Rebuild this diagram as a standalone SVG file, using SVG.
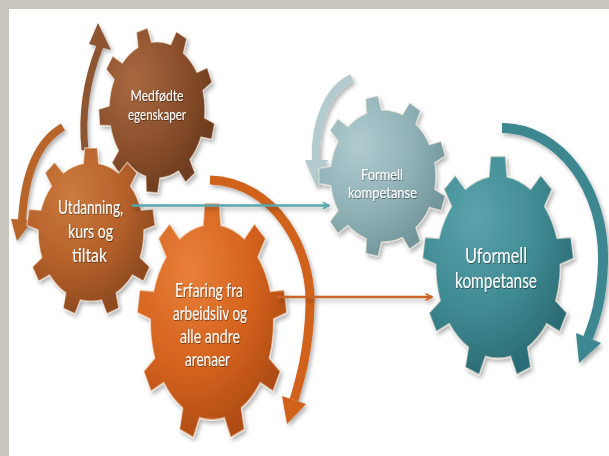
<svg xmlns="http://www.w3.org/2000/svg" xmlns:xlink="http://www.w3.org/1999/xlink" width="609" height="456" viewBox="0 0 609 456">
  <style>
    .lbl { font-family: Lato, "Open Sans", "DejaVu Sans", sans-serif; fill: #ffffff; text-anchor: middle; }
    .rim { stroke: #fff3e6; stroke-opacity: 0.55; stroke-width: 1.2; vector-effect: non-scaling-stroke; }
    .arc { fill: none; stroke-linecap: butt; }
    .link { fill: none; stroke-width: 2.4; }
  </style>
  <defs>
    <!-- nine-tooth gear outline, body radius 55, tooth tips at 67 -->
    <path id="gear9" d="M -8 -54.42 L -6.5 -66.68 L 6.5 -66.68 L 8 -54.42 A 55 55 0 0 1 28.85 -46.83 L 37.88 -55.26 L 47.86 -46.89 L 41.11 -36.54 A 55 55 0 0 1 52.2 -17.33 L 64.54 -17.98 L 66.8 -5.17 L 54.98 -1.57 A 55 55 0 0 1 51.12 20.28 L 61 27.7 L 54.5 38.97 L 43.14 34.12 A 55 55 0 0 1 26.13 48.4 L 28.92 60.44 L 16.7 64.89 L 11.1 53.87 A 55 55 0 0 1 -11.1 53.87 L -16.7 64.89 L -28.92 60.44 L -26.13 48.4 A 55 55 0 0 1 -43.14 34.12 L -54.5 38.97 L -61 27.7 L -51.12 20.28 A 55 55 0 0 1 -54.98 -1.57 L -66.8 -5.17 L -64.54 -17.98 L -52.2 -17.33 A 55 55 0 0 1 -41.11 -36.54 L -47.86 -46.89 L -37.88 -55.26 L -28.85 -46.83 A 55 55 0 0 1 -8 -54.42 Z"/>
    <radialGradient id="fillBrown" gradientUnits="userSpaceOnUse" cx="-20" cy="-30" r="95">
      <stop offset="0" stop-color="#a8693f"/>
      <stop offset="0.6" stop-color="#8a4f2c"/>
      <stop offset="1" stop-color="#6e3c20"/>
    </radialGradient>
    <radialGradient id="fillRust" gradientUnits="userSpaceOnUse" cx="-20" cy="-30" r="95">
      <stop offset="0" stop-color="#cc7a3e"/>
      <stop offset="0.6" stop-color="#b4602a"/>
      <stop offset="1" stop-color="#8e4a1f"/>
    </radialGradient>
    <radialGradient id="fillOrange" gradientUnits="userSpaceOnUse" cx="-20" cy="-30" r="95">
      <stop offset="0" stop-color="#e8803a"/>
      <stop offset="0.6" stop-color="#d4621e"/>
      <stop offset="1" stop-color="#b04d14"/>
    </radialGradient>
    <radialGradient id="fillMist" gradientUnits="userSpaceOnUse" cx="-20" cy="-30" r="95">
      <stop offset="0" stop-color="#b0cbcf"/>
      <stop offset="0.6" stop-color="#8fb1b6"/>
      <stop offset="1" stop-color="#72969c"/>
    </radialGradient>
    <radialGradient id="fillTeal" gradientUnits="userSpaceOnUse" cx="-20" cy="-30" r="95">
      <stop offset="0" stop-color="#5aa3ab"/>
      <stop offset="0.6" stop-color="#3f8a93"/>
      <stop offset="1" stop-color="#2c6c74"/>
    </radialGradient>
    <filter id="shadow" x="-20%" y="-20%" width="140%" height="140%">
      <feDropShadow dx="2" dy="3" stdDeviation="2" flood-color="#000" flood-opacity="0.3"/>
    </filter>
    <filter id="textShadow" x="-10%" y="-10%" width="120%" height="130%">
      <feDropShadow dx="0.6" dy="1" stdDeviation="0.6" flood-color="#000" flood-opacity="0.45"/>
    </filter>
    <marker id="headTeal" viewBox="0 0 10 10" refX="9" refY="5" markerWidth="8" markerHeight="8" markerUnits="userSpaceOnUse" orient="auto">
      <path d="M1 1 L9 5 L1 9" fill="none" stroke="#5aa6ad" stroke-width="2"/>
    </marker>
    <marker id="headOrange" viewBox="0 0 10 10" refX="9" refY="5" markerWidth="8" markerHeight="8" markerUnits="userSpaceOnUse" orient="auto">
      <path d="M1 1 L9 5 L1 9" fill="none" stroke="#c96327" stroke-width="2"/>
    </marker>
  </defs>

  <!-- frame -->
  <rect x="0" y="0" width="609" height="456" fill="#c9c6bd"/>
  <rect x="9" y="9" width="600" height="447" fill="#ffffff"/>

  <!-- rotation arrows around each gear -->
  <g id="rotation-arrows" filter="url(#shadow)">
    <path class="arc" d="M 85 150 C 81 112, 88 76, 100 46" stroke="#8d5532" stroke-width="7"/>
    <polygon points="98,23 111,50 89,44" fill="#8d5532"/>

    <path class="arc" d="M 63 127 C 40 140, 25 170, 22 220" stroke="#b8652b" stroke-width="8"/>
    <polygon points="17,241 33,220 11,219" fill="#b8652b"/>

    <path class="arc" d="M 210 180 C 275 182, 312 250, 310 305 C 309 350, 300 380, 294 400" stroke="#d0621f" stroke-width="9"/>
    <polygon points="287,424 306,404 282,396" fill="#d0621f"/>

    <path class="arc" d="M 352 78 C 330 88, 314 120, 316 160" stroke="#b3cbce" stroke-width="8"/>
    <polygon points="317,188 328,160 305,160" fill="#b3cbce"/>

    <path class="arc" d="M 502 128 C 560 128, 605 190, 603 262 C 602 300, 595 320, 588 338" stroke="#3d8790" stroke-width="10"/>
    <polygon points="579,363 601,343 576,333" fill="#3d8790"/>
  </g>

  <!-- gears -->
  <g id="gear-medfodte" filter="url(#shadow)">
    <use xlink:href="#gear9" href="#gear9" class="rim" fill="url(#fillBrown)" transform="translate(157 110) scale(0.87 1.24) rotate(-15)"/>
    <g class="lbl" font-size="16" filter="url(#textShadow)">
      <text x="157" y="101" textLength="53" lengthAdjust="spacingAndGlyphs">Medfødte</text>
      <text x="157" y="120" textLength="58" lengthAdjust="spacingAndGlyphs">egenskaper</text>
    </g>
  </g>

  <g id="gear-utdanning" filter="url(#shadow)">
    <use xlink:href="#gear9" href="#gear9" class="rim" fill="url(#fillRust)" transform="translate(91 232) scale(0.96 1.26)"/>
    <g class="lbl" font-size="19" filter="url(#textShadow)">
      <text x="90.5" y="214" textLength="65" lengthAdjust="spacingAndGlyphs">Utdanning,</text>
      <text x="90.5" y="238" textLength="45" lengthAdjust="spacingAndGlyphs">kurs og</text>
      <text x="89.5" y="262" textLength="35" lengthAdjust="spacingAndGlyphs">tiltak</text>
    </g>
  </g>

  <g id="gear-erfaring" filter="url(#shadow)">
    <use xlink:href="#gear9" href="#gear9" class="rim" fill="url(#fillOrange)" transform="translate(212 322) scale(1.12 1.78)"/>
    <g class="lbl" font-size="19" filter="url(#textShadow)">
      <text x="209" y="297" textLength="68" lengthAdjust="spacingAndGlyphs">Erfaring fra</text>
      <text x="210" y="320" textLength="74" lengthAdjust="spacingAndGlyphs">arbeidsliv og</text>
      <text x="210" y="343" textLength="60" lengthAdjust="spacingAndGlyphs">alle andre</text>
      <text x="207.5" y="366" textLength="45" lengthAdjust="spacingAndGlyphs">arenaer</text>
    </g>
  </g>

  <g id="gear-formell" filter="url(#shadow)">
    <use xlink:href="#gear9" href="#gear9" class="rim" fill="url(#fillMist)" transform="translate(383 176) scale(0.96 1.2) rotate(-10)"/>
    <g class="lbl" font-size="16" filter="url(#textShadow)">
      <text x="382" y="180" textLength="42" lengthAdjust="spacingAndGlyphs">Formell</text>
      <text x="382.5" y="198" textLength="69" lengthAdjust="spacingAndGlyphs">kompetanse</text>
    </g>
  </g>

  <g id="gear-uformell" filter="url(#shadow)">
    <use xlink:href="#gear9" href="#gear9" class="rim" fill="url(#fillTeal)" transform="translate(498 267) scale(1.13 1.66)"/>
    <g class="lbl" font-size="21" filter="url(#textShadow)">
      <text x="496" y="263" textLength="62" lengthAdjust="spacingAndGlyphs">Uformell</text>
      <text x="496" y="288" textLength="82" lengthAdjust="spacingAndGlyphs">kompetanse</text>
    </g>
  </g>

  <!-- connectors -->
  <g id="connectors" filter="url(#shadow)">
    <path class="link" d="M 132 205.5 L 329 205.5" stroke="#5aa6ad" marker-end="url(#headTeal)"/>
    <path class="link" d="M 277 297 L 432 297" stroke="#c96327" marker-end="url(#headOrange)"/>
  </g>
</svg>
